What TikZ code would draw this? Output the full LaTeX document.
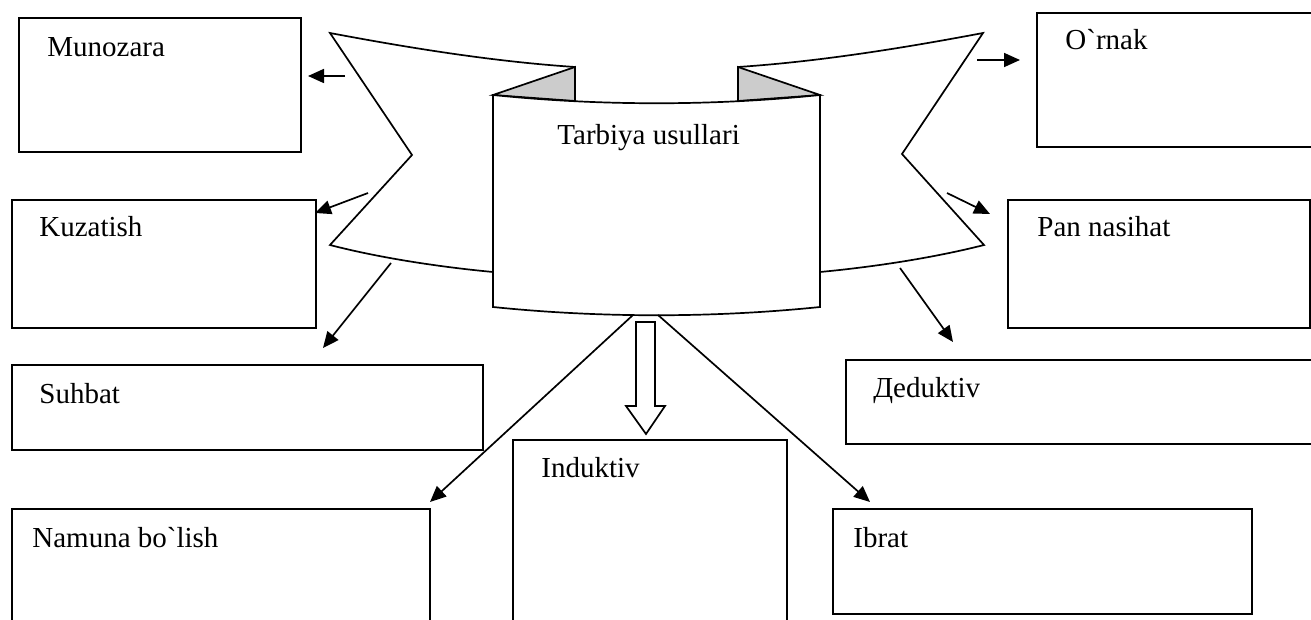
\documentclass[tikz,border=0pt]{standalone}
\usepackage{fontspec}
\setmainfont{Liberation Serif}
\usetikzlibrary{arrows.meta}
\begin{document}
\begin{tikzpicture}[x=0.5pt,y=-0.5pt,
  box/.style={draw,line width=0.9pt,rectangle,inner sep=0pt,anchor=north west,fill=white},
  lbl/.style={anchor=base west,inner sep=0pt,font=\fontsize{14.5pt}{17pt}\selectfont},
  arr/.style={line width=0.85pt,-{Triangle[length=8pt,width=7pt]}},
  ln/.style={line width=0.85pt,line join=miter}]
\useasboundingbox (0,0) rectangle (1311,620);
\clip (0,0) rectangle (1311,620);
\fill[white] (0,0) rectangle (1311,620);

% boxes
\node[box,minimum width=141pt,minimum height=67pt] (mun) at (18,17) {};
\node[box,minimum width=152pt,minimum height=64pt] (kuz) at (11,199) {};
\node[box,minimum width=235.5pt,minimum height=42.5pt] (suh) at (11,364) {};
\node[box,minimum width=209pt,minimum height=61pt] (nam) at (11,508) {};
\node[box,minimum width=137pt,minimum height=95.5pt] (ind) at (512,439) {};
\node[box,minimum width=209.5pt,minimum height=52.5pt] (ibr) at (832,508) {};
\node[box,minimum width=237.5pt,minimum height=42pt] (ded) at (845,359) {};
\node[box,minimum width=151pt,minimum height=64pt] (pan) at (1007,199) {};
\node[box,minimum width=142pt,minimum height=67pt] (orn) at (1036,12) {};

% labels
\node[lbl] (tmun) at (47,57) {Munozara};
\node[lbl] (tkuz) at (39,237) {Kuzatish};
\node[lbl] (tsuh) at (39,403) {Suhbat};
\node[lbl] (tnam) at (32,547) {Namuna bo\textasciigrave lish};
\node[lbl] (tind) at (541,477) {Induktiv};
\node[lbl] (tibr) at (853,547) {Ibrat};
\node[lbl] (tded) at (873,397) {Дeduktiv};
\node[lbl] (tpan) at (1037,237) {Pan nasihat};
\node[lbl] (torn) at (1065,50) {O\textasciigrave rnak};

% banner wings (fill, then visible outline only)
\fill[white] (575,67) .. controls (500,62) and (420,50) .. (330,33)
  -- (412,155) -- (330,245) .. controls (380,258) and (440,267) .. (493,272)
  -- (575,272) -- cycle;
\draw[ln] (575,67) .. controls (500,62) and (420,50) .. (330,33)
  -- (412,155) -- (330,245) .. controls (380,258) and (440,267) .. (493,272);
\fill[white] (738,67) .. controls (813,62) and (893,50) .. (983,33)
  -- (902,154) -- (984,245) .. controls (933,258) and (873,267) .. (820,272)
  -- (738,272) -- cycle;
\draw[ln] (738,67) .. controls (813,62) and (893,50) .. (983,33)
  -- (902,154) -- (984,245) .. controls (933,258) and (873,267) .. (820,272);
% gray folds
\draw[ln,fill=black!20] (493,95) -- (575,67) -- (575,101) -- cycle;
\draw[ln,fill=black!20] (820,95) -- (738,67) -- (738,101) -- cycle;
% central panel
\draw[ln,fill=white] (493,95) .. controls (600,106) and (713,106) .. (820,95)
  -- (820,307) .. controls (713,318) and (600,318) .. (493,307) -- cycle;
\node[lbl] (title) at (557,145) {Tarbiya usullari};

% block arrow
\draw[ln,fill=white] (636,322) -- (655,322) -- (655,406) -- (665,406) -- (646,434)
  -- (626,406) -- (636,406) -- cycle;

% arrow end coordinates
\coordinate (s1) at (345,76);  \coordinate (e1) at (308,76);
\coordinate (s2) at (368,193); \coordinate (e2) at (315,213);
\coordinate (s3) at (391,263); \coordinate (e3) at (323,348);
\coordinate (s4) at (633,315); \coordinate (e4) at (430,502);
\coordinate (s5) at (658,315); \coordinate (e5) at (870,502);
\coordinate (s6) at (977,60);  \coordinate (e6) at (1020,60);
\coordinate (s7) at (947,193); \coordinate (e7) at (990,214);
\coordinate (s8) at (900,268); \coordinate (e8) at (953,342);

\draw[arr] (s1) -- (e1);
\draw[arr] (s2) -- (e2);
\draw[arr] (s3) -- (e3);
\draw[arr] (s4) -- (e4);
\draw[arr] (s5) -- (e5);
\draw[arr] (s6) -- (e6);
\draw[arr] (s7) -- (e7);
\draw[arr] (s8) -- (e8);
\end{tikzpicture}
\end{document}
